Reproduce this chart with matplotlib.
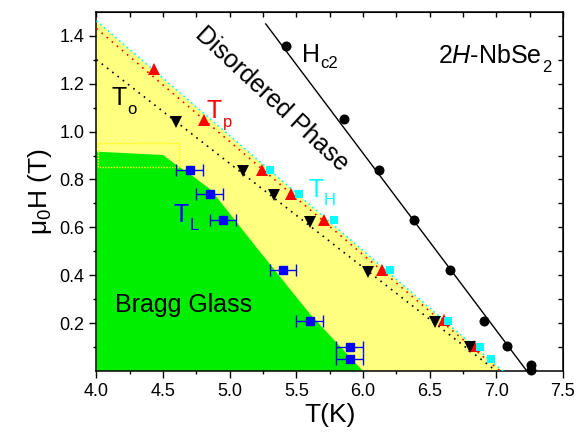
import matplotlib
matplotlib.use("Agg")
import matplotlib.pyplot as plt
import numpy as np

plt.rcParams['font.family'] = ['Liberation Sans', 'DejaVu Sans']
plt.rcParams['mathtext.fontset'] = 'custom'
plt.rcParams['mathtext.rm'] = 'Liberation Sans'
plt.rcParams['mathtext.it'] = 'Liberation Sans:italic'

# ---- data ----
hc2_T = [5.42, 5.86, 6.12, 6.38, 6.65, 6.91, 7.08, 7.26, 7.26]
hc2_H = [1.358, 1.052, 0.839, 0.631, 0.422, 0.211, 0.106, 0.026, 0.003]
hc2_fit_T = [5.27, 7.23]
hc2_fit_H = [1.449, 0.0]

To_T = [4.60, 5.10, 5.33, 5.60, 6.04, 6.54, 6.80]
To_H = [1.04, 0.835, 0.735, 0.624, 0.415, 0.206, 0.102]
To_line_T = [4.0, 7.0]
To_line_H = [1.30, 0.0]

Tp_T = [4.43, 4.81, 5.24, 5.46, 5.71, 6.14, 6.61, 6.83]
Tp_H = [1.26, 1.05, 0.84, 0.74, 0.632, 0.424, 0.212, 0.107]
Tp_line_T = [4.0, 7.03]
Tp_line_H = [1.43, 0.0]

TH_T = [5.30, 5.52, 5.78, 6.20, 6.64, 6.88, 6.96]
TH_H = [0.84, 0.738, 0.631, 0.422, 0.211, 0.102, 0.05]
TH_line_T = [4.0, 7.05]
TH_line_H = [1.462, 0.0]

TL_T = [4.70, 4.85, 4.95, 5.40, 5.60, 5.90, 5.90]
TL_H = [0.84, 0.738, 0.631, 0.422, 0.211, 0.102, 0.051]
TL_err = [0.1, 0.1, 0.1, 0.1, 0.1, 0.1, 0.1]

yellow_T = [4.0, 7.05, 4.0]
yellow_H = [1.462, 0.0, 0.0]

green_T = [4.0, 4.5, 4.6, 4.72, 4.86, 5.21, 5.6, 6.0, 4.0]
green_H = [0.916, 0.902, 0.86, 0.815, 0.756, 0.51, 0.24, 0.0, 0.0]

box_T = [4.01, 4.62, 4.62, 4.01, 4.01]
box_H = [0.953, 0.953, 0.851, 0.851, 0.953]

xticks = [4.0, 4.5, 5.0, 5.5, 6.0, 6.5, 7.0, 7.5]
yticks = [0.2, 0.4, 0.6, 0.8, 1.0, 1.2, 1.4]

# ---- figure ----
fig = plt.figure(figsize=(5.77, 4.34), dpi=100)
ax = fig.add_axes([0.1672, 0.1447, 0.8085, 0.8283])

ax.fill(yellow_T, yellow_H, color='#ffff80', lw=0, zorder=1)
ax.fill(green_T, green_H, color='#00ee00', lw=0, zorder=2)
ax.plot(box_T, box_H, color='#ffff00', lw=1, ls=(0, (1, 1)), zorder=2.5)

ax.plot(TH_line_T, TH_line_H, color='#00ffff', lw=1.2, ls=(0, (1, 2)), zorder=3)
ax.plot(Tp_line_T, Tp_line_H, color='#ff0000', lw=1.2, ls=(0, (1, 3)), zorder=3)
ax.plot(To_line_T, To_line_H, color='black', lw=1.2, ls=(0, (1, 3)), zorder=3)
ax.plot(hc2_fit_T, hc2_fit_H, color='black', lw=1.0, zorder=3)

ax.errorbar(TL_T, TL_H, xerr=TL_err, fmt='s', color='#0000ff', ms=6,
            capsize=4, elinewidth=1, capthick=1, zorder=4)
ax.plot(Tp_T, Tp_H, '^', color='#ff0000', ms=8, mew=0, zorder=5)
ax.plot(To_T, To_H, 'v', color='black', ms=8, mew=0, zorder=6)
ax.plot(TH_T, TH_H, 's', color='#00ffff', ms=6, mew=0, zorder=7)
ax.plot(hc2_T, hc2_H, 'o', color='black', ms=7.2, mew=0, zorder=8, clip_on=False)

ax.set_xlim(4.0, 7.5)
ax.set_ylim(0.0, 1.5)
ax.set_xticks(xticks)
ax.set_xticklabels([f'{v:.1f}' for v in xticks])
ax.set_xticks(np.arange(4.25, 7.5, 0.5), minor=True)
ax.set_yticks(yticks)
ax.set_yticklabels([f'{v:.1f}' for v in yticks])
ax.set_yticks(np.arange(0.1, 1.5, 0.2), minor=True)
ax.tick_params(which='major', direction='out', length=5, width=1, labelsize=13,
               top=False, right=False)
ax.tick_params(which='minor', direction='out', length=2.5, width=1,
               top=False, right=False)
for s in ax.spines.values():
    s.set_linewidth(1.1)

# top / right inward ticks
axt = ax.secondary_xaxis('top')
axt.set_xticks(np.arange(4.0, 7.51, 0.25))
axt.tick_params(direction='in', length=3.5, width=1, labeltop=False)
axr = ax.secondary_yaxis('right')
axr.set_yticks(np.arange(0.1, 1.45, 0.1))
axr.tick_params(direction='in', length=3.5, width=1, labelright=False)

ax.set_xlabel('T(K)', fontsize=19, labelpad=2)
ax.set_ylabel(r'$\mathregular{\mu_0}$H (T)', fontsize=19, labelpad=4)

renderer = fig.canvas.get_renderer()


def sub_label(x, y, main, sub, color='black', size=18, subsize=12, drop=6.0):
    t = ax.text(x, y, main, fontsize=size, color=color, ha='left',
                va='baseline', zorder=9)
    bb = t.get_window_extent(renderer)
    xr = ax.transData.inverted().transform((bb.x1, bb.y0))[0]
    ax.annotate(sub, xy=(xr, y), xytext=(0.5, -drop), textcoords='offset points',
                fontsize=subsize, color=color, ha='left', va='baseline', zorder=9)


ax.text(5.317, 1.135, 'Disordered Phase', fontsize=18, rotation=-43,
        ha='center', va='center', rotation_mode='anchor', zorder=9)
ax.text(4.14, 0.247, 'Bragg Glass', fontsize=18, ha='left', va='baseline', zorder=9)
sub_label(5.54, 1.29, 'H', 'c2', drop=4.5)
sub_label(6.56, 1.286, r'2$\mathit{H}$-NbSe', '2', drop=6.5)
sub_label(4.114, 1.11, 'T', 'o')
sub_label(4.827, 1.055, 'T', 'p', color='#ff0000')
sub_label(5.587, 0.727, 'T', 'H', color='#00ffff')
sub_label(4.581, 0.624, 'T', 'L', color='#0000ff')

fig.savefig('out.png', dpi=100)
